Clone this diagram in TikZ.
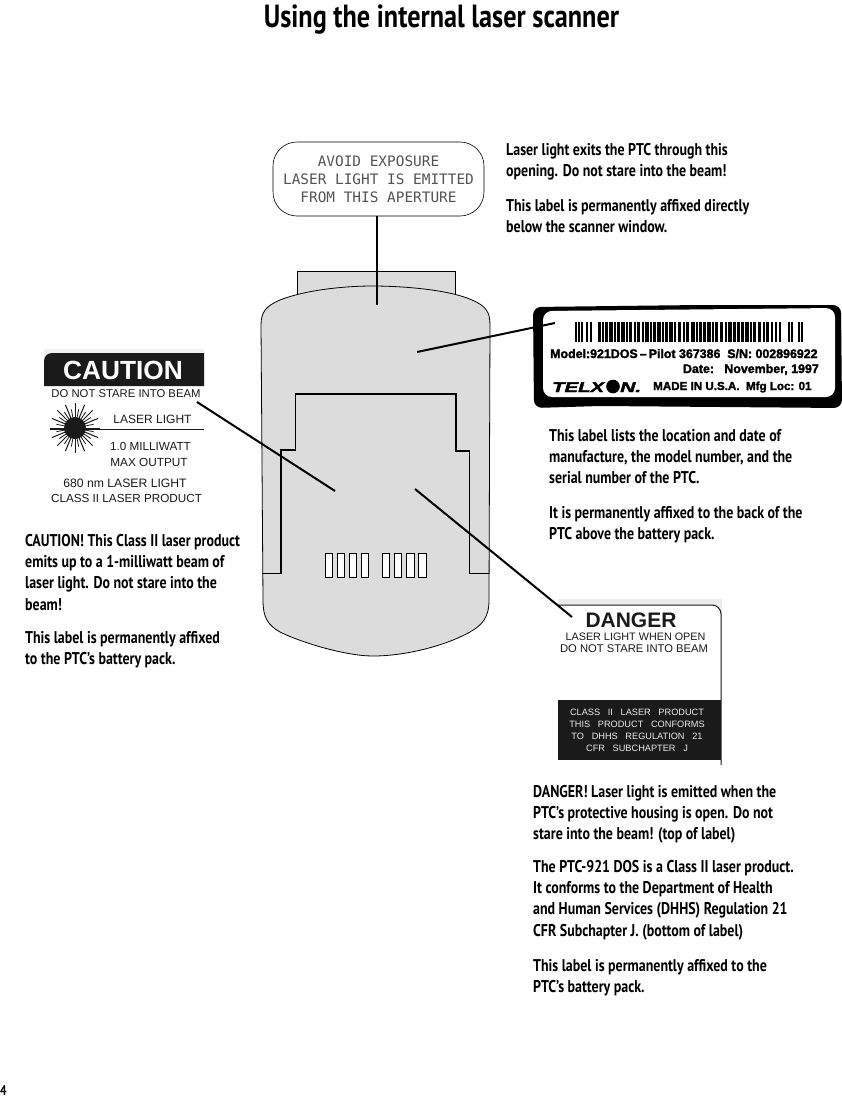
\documentclass[tikz,border=0pt]{standalone}
\usepackage{fontspec}
\setmainfont{Liberation Sans}
\newfontfamily\bodyf[FakeStretch=0.82]{PT Sans}
\newfontfamily\lblf{Liberation Sans}
\newfontfamily\heavyf[FakeBold=2]{Liberation Sans}
\newfontfamily\apf{DejaVu Sans Mono}
\definecolor{bodygray}{HTML}{DCDCDC}
\definecolor{ink}{HTML}{1A1A1A}
\tikzset{
 para/.style={anchor=north west,inner sep=0pt,align=left,font=\bodyf\bfseries\fontsize{17}{21.3}\selectfont,text=black},
 lbl/.style={inner sep=0pt,font=\lblf\fontsize{#1}{#1}\selectfont,text=ink},
 lbl/.default=10,
 inv/.style={inner sep=0pt,font=\lblf\fontsize{9.2}{9.2}\selectfont,text=white!92!black},
 tel/.style={inner sep=0pt,font=\heavyf\bfseries\fontsize{#1}{#1}\selectfont,text=black},
 leader/.style={line width=2pt,black},
 outline/.style={line width=0.8pt,black},
 battery/.style={line width=1.5pt,black},
 contact/.style={draw=black,line width=0.8pt,fill=white},
}
\begin{document}
\begin{tikzpicture}[x=1pt,y=-1pt]
\useasboundingbox (0,0) rectangle (842,1098);
% title and folio
\node[inner sep=0pt,font=\bodyf\bfseries\fontsize{32}{32}\selectfont] (title) at (441.5,20) {Using the internal laser scanner};
\node[inner sep=0pt,font=\bodyf\bfseries\fontsize{14}{14}\selectfont] (folio) at (3.5,1091) {4};
% device
\draw[outline,fill=bodygray] (297,296) -- (297,271.5) -- (455.7,271.5) -- (455.7,296);
\draw[outline,fill=bodygray] (261,325) .. controls (261,312) and (266,306) .. (280,300)
 .. controls (305,290) and (345,286) .. (372,286)
 .. controls (405,286) and (450,290) .. (472,300)
 .. controls (486,306) and (490,312) .. (490,325)
 -- (489,600) .. controls (489,618) and (482,625) .. (470,632)
 .. controls (445,646) and (405,656) .. (373,656)
 .. controls (345,656) and (300,642) .. (280,632)
 .. controls (268,625) and (263,618) .. (263,600) -- cycle;
\draw[battery,line width=1.3pt] (262,573.5) -- (281,573.5) -- (281,450) -- (295.5,450) -- (295.5,394) -- (456,394) -- (456,451) -- (469.5,451) -- (469.5,573.5) -- (489,573.5);
\foreach \cx in {325.3,337.3,349.3,361.3,382.3,394.3,406.6,418.6}
  \draw[contact] (\cx,553.3) rectangle ++(7.4,24);
% aperture label
\node[draw=black,line width=0.6pt,rounded corners=24pt,minimum width=211pt,minimum height=74pt,inner sep=0pt,align=center,font=\apf\fontsize{14.4}{18}\selectfont,text=ink!75] (aperture) at (378.5,179) {AVOID EXPOSURE\\LASER LIGHT IS EMITTED\\FROM THIS APERTURE};
% text blocks
\node[para] (t1) at (506,143) {Laser light exits the PTC through this\\opening. Do not stare into the beam!};
\node[para] (t2) at (506,199) {This label is permanently affixed directly\\below the scanner window.};
\node[para] (t3) at (549,429) {This label lists the location and date of\\manufacture, the model number, and the\\serial number of the PTC.};
\node[para] (t4) at (549,506) {It is permanently affixed to the back of the\\PTC above the battery pack.};
\node[para] (t5) at (25,534) {CAUTION! This Class II laser product\\emits up to a 1-milliwatt beam of\\laser light. Do not stare into the\\beam!};
\node[para] (t6) at (25,631) {This label is permanently affixed\\to the PTC’s battery pack.};
\node[para] (t7) at (533,785) {DANGER! Laser light is emitted when the\\PTC’s protective housing is open. Do not\\stare into the beam! (top of label)};
\node[para] (t8) at (533,860) {The PTC-921 DOS is a Class II laser product.\\It conforms to the Department of Health\\and Human Services (DHHS) Regulation 21\\CFR Subchapter J. (bottom of label)};
\node[para] (t9) at (533,959) {This label is permanently affixed to the\\PTC’s battery pack.};
% serial label
\fill[black,rounded corners=8pt] (533,307) -- (700,305) -- (841,305) -- (842,408) -- (600,406) -- (534,408) -- cycle;
\fill[white,rounded corners=9pt] (543,311) -- (835,308) -- (835,397) -- (543,397) -- cycle;
\foreach \bx/\bw in {575/2,578/2,581/1.5,586/1.5,590/1.5,598/2.5,602/1.5,605/2.5,609/3.5,614/2,617/2.5,621/3.5,626/1.5,629/3,634/2,637/3,642/2,645/3.5,650/2,653/2.5,657/3.5,662/2,665/2.5,669/3.5,674/2,678/3,683/2,686/3,691/3.5,696/2,699/2.5,703/2.5,707/3.5,712/2,715/3,720/3,725/2,728/3.5,733/2.5,737/2.5,741/2.5,745/3.5,750/2,753/3,758/3,763/2,766/3,771/2,775/2,779/1.5,788/2,791/1.5,798/2,801/2}
  \fill[black] (\bx,322) rectangle ++(\bw,20);
\node[tel=12.4,anchor=base west] (model) at (550,358) {Model:921DOS\,–\,Pilot 367386\ \ S/N: 002896922};
\node[tel=12.4,anchor=base east] (date) at (819,373) {Date:\ \ \ November, 1997};
\node[inner sep=0pt,anchor=base west,font=\heavyf\bfseries\itshape\fontsize{14}{14}\selectfont] (telx) at (552,392) {\scalebox{1.45}[1]{TELX}};
\fill[black] (613,386.5) circle (6.8pt);
\node[inner sep=0pt,anchor=base west,font=\heavyf\bfseries\itshape\fontsize{14}{14}\selectfont] (teln) at (620,392) {\scalebox{1.5}[1]{N.}};
\node[tel=11.6,anchor=base west] (made) at (653,390) {MADE IN U.S.A.\ \ Mfg Loc: 01};
% caution label
\fill[black!6] (44,349) rectangle (204,510);
\fill[white] (44,385) rectangle (204,510);
\fill[ink] (44,386) -- (44,361) [rounded corners=8pt] -- (44,353) [sharp corners] -- (204,353) -- (204,386) -- cycle;
\node[inner sep=0pt,font=\lblf\bfseries\fontsize{26.3}{26.3}\selectfont,text=white] (cautionhead) at (123,370) {CAUTION};
\node[lbl=11.3] (c1) at (126,394) {DO NOT STARE INTO BEAM};
\node[lbl=12] (c2) at (152.5,419) {LASER LIGHT};
\draw[line width=1pt,ink] (50,429) -- (204,429);
\fill[ink] (75,428) circle (11pt);
\foreach \a in {0,22.5,...,359} \draw[ink,line width=1pt] (75,428) -- ++(\a:25);
\foreach \a in {11.25,33.75,...,359} \draw[ink,line width=0.8pt] (75,428) -- ++(\a:19);
\node[lbl=11.7] (c3) at (150.5,446) {1.0 MILLIWATT};
\node[lbl=11.8] (c4) at (149,462) {MAX OUTPUT};
\node[lbl=12.2] (c5) at (125,483) {680 nm LASER LIGHT};
\node[lbl=11.7] (c6) at (126.5,498) {CLASS II LASER PRODUCT};
% danger label
\fill[black!8] (558,599) rectangle (722,700);
\fill[white] (558,605) [rounded corners=9pt] -- (721,605) [sharp corners] -- (721,700) -- (558,700) -- cycle;
\draw[ink,line width=1pt] (558,605) [rounded corners=9pt] -- (721,605) [sharp corners] -- (721,765);
\fill[ink] (558,700) rectangle (721,760);
\node[inner sep=0pt,font=\lblf\bfseries\fontsize{21}{21}\selectfont,text=ink] (d0) at (631,620) {DANGER};
\node[lbl=10.8] (d1) at (635.5,637) {LASER LIGHT WHEN OPEN};
\node[lbl=11.2] (d2) at (634,649) {DO NOT STARE INTO BEAM};
\node[inv] (d3) at (637,712) {CLASS\ \ \ II\ \ \ LASER\ \ \ PRODUCT};
\node[inv] (d4) at (637,724) {THIS\ \ \ PRODUCT\ \ \ CONFORMS};
\node[inv] (d5) at (637,736) {TO\ \ \ DHHS\ \ \ REGULATION\ \ \ 21};
\node[inv] (d6) at (637,748) {CFR\ \ \ SUBCHAPTER\ \ \ J};
% leaders
\coordinate (pA) at (377,305);
\coordinate (pB) at (417,352);
\coordinate (pBl) at (555,323);
\coordinate (pC) at (335,491);
\coordinate (pCl) at (197,402);
\coordinate (pD) at (415,489);
\coordinate (pDl) at (572,617);
\draw[leader] (aperture.south -| pA) -- (pA);
\draw[leader] (pB) -- (pBl);
\draw[leader] (pC) -- (pCl);
\draw[leader] (pD) -- (pDl);
\end{tikzpicture}
\end{document}
